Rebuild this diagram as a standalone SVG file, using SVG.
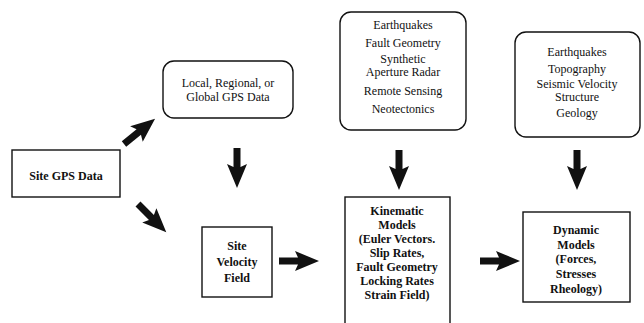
<svg xmlns="http://www.w3.org/2000/svg" xmlns:xlink="http://www.w3.org/1999/xlink" width="644" height="323" viewBox="0 0 644 323">
<style>
.box{fill:#fff;stroke:#111;stroke-width:1.4}
.t{font-family:"Liberation Serif","Times New Roman",serif;font-size:12px;fill:#111;text-anchor:middle}
.b{font-weight:bold}
.arr{fill:#111}
</style>
<defs>
<path id="arr" d="M0,-3.5 H19 L16,-10 L40,0 L16,10 L19,3.5 H0 Z"/>
</defs>
<rect width="644" height="323" fill="#fff"/>
<g id="site-gps">
<rect class="box" x="12" y="150" width="108" height="47"/>
<text class="t b" x="66" y="180" font-size="12.5">Site GPS Data</text>
</g>
<g id="gps-data">
<rect class="box" x="163" y="61" width="130" height="57" rx="11"/>
<text class="t" x="228" y="87" font-size="12.5">Local, Regional, or</text>
<text class="t" x="228" y="101" font-size="12.5">Global GPS Data</text>
</g>
<g id="velocity-field">
<rect class="box" x="202" y="227" width="70" height="70"/>
<text class="t b" x="237" y="250">Site</text>
<text class="t b" x="237" y="266">Velocity</text>
<text class="t b" x="237" y="282">Field</text>
</g>
<g id="kin-inputs">
<rect class="box" x="340" y="12" width="126" height="118" rx="11"/>
<text class="t" x="403" y="29">Earthquakes</text>
<text class="t" x="403" y="47">Fault Geometry</text>
<text class="t" x="403" y="63" font-size="11.5">Synthetic</text>
<text class="t" x="403" y="76" font-size="11.5">Aperture Radar</text>
<text class="t" x="403" y="95">Remote Sensing</text>
<text class="t" x="403" y="113">Neotectonics</text>
</g>
<g id="kinematic">
<rect class="box" x="345" y="197" width="105" height="140"/>
<text class="t b" x="397" y="215">Kinematic</text>
<text class="t b" x="397" y="229">Models</text>
<text class="t b" x="397" y="243">(Euler Vectors.</text>
<text class="t b" x="397" y="257">Slip Rates,</text>
<text class="t b" x="397" y="271">Fault Geometry</text>
<text class="t b" x="397" y="285">Locking Rates</text>
<text class="t b" x="397" y="299">Strain Field)</text>
</g>
<g id="dyn-inputs">
<rect class="box" x="515" y="32" width="125" height="105" rx="11"/>
<text class="t" x="577" y="56">Earthquakes</text>
<text class="t" x="577" y="73">Topography</text>
<text class="t" x="577" y="88" font-size="11.5">Seismic Velocity</text>
<text class="t" x="577" y="101" font-size="11.5">Structure</text>
<text class="t" x="577" y="117">Geology</text>
</g>
<g id="dynamic">
<rect class="box" x="523" y="212" width="107" height="90"/>
<text class="t b" x="576" y="234">Dynamic</text>
<text class="t b" x="576" y="249">Models</text>
<text class="t b" x="576" y="263">(Forces,</text>
<text class="t b" x="576" y="278">Stresses</text>
<text class="t b" x="576" y="293">Rheology)</text>
</g>
<g id="connectors" class="arr">
<use xlink:href="#arr" href="#arr" transform="translate(124,144) rotate(-39)"/>
<use xlink:href="#arr" href="#arr" transform="translate(138,204) rotate(45)"/>
<use xlink:href="#arr" href="#arr" transform="translate(237,148) rotate(90)"/>
<use xlink:href="#arr" href="#arr" transform="translate(279,261)"/>
<use xlink:href="#arr" href="#arr" transform="translate(399,150) rotate(90)"/>
<use xlink:href="#arr" href="#arr" transform="translate(480,261)"/>
<use xlink:href="#arr" href="#arr" transform="translate(577,150) rotate(90)"/>
</g>
</svg>
